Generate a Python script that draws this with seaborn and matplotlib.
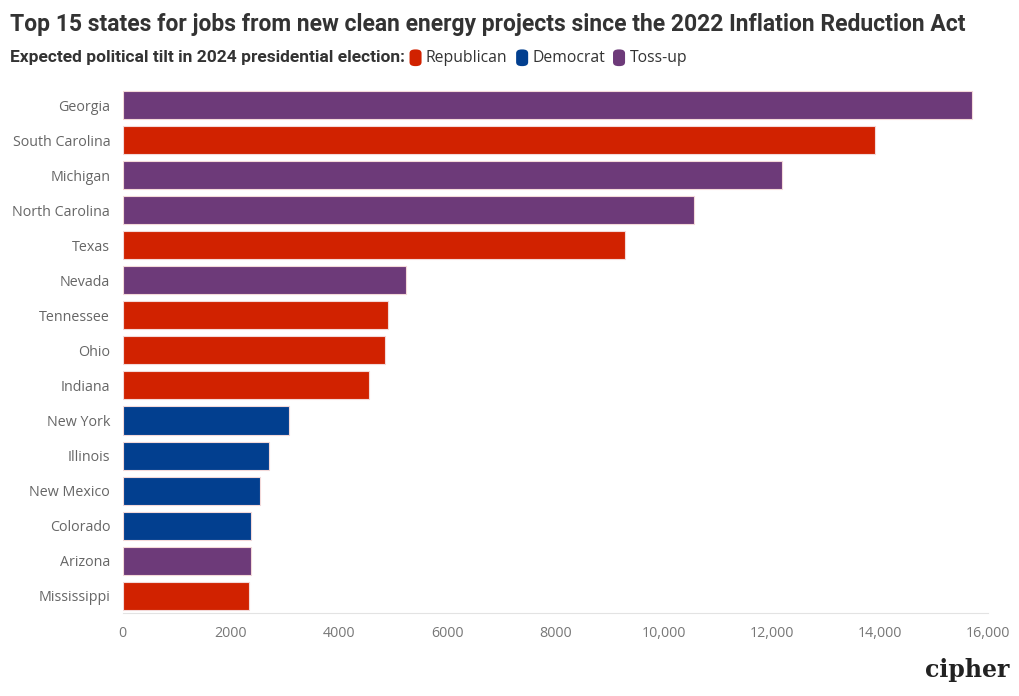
import pandas as pd
import seaborn as sns
import matplotlib.pyplot as plt
from matplotlib.patches import FancyBboxPatch

# data
states = ["Georgia", "South Carolina", "Michigan", "North Carolina", "Texas",
          "Nevada", "Tennessee", "Ohio", "Indiana", "New York", "Illinois",
          "New Mexico", "Colorado", "Arizona", "Mississippi"]
jobs = [15700, 13910, 12190, 10560, 9280, 5240, 4900, 4850, 4550,
        3080, 2710, 2540, 2380, 2370, 2330]
tilt = ["Toss-up", "Republican", "Toss-up", "Toss-up", "Republican",
        "Toss-up", "Republican", "Republican", "Republican", "Democrat",
        "Democrat", "Democrat", "Democrat", "Toss-up", "Republican"]
xticks = [0, 2000, 4000, 6000, 8000, 10000, 12000, 14000, 16000]
xticklabels = ["0", "2000", "4000", "6000", "8000", "10,000", "12,000", "14,000", "16,000"]

colors = {"Republican": "#d12200", "Democrat": "#023f8f", "Toss-up": "#6d3a79"}

df = pd.DataFrame({"state": states, "jobs": jobs, "tilt": tilt})

sns.set_style("white")
plt.rcParams["font.family"] = ["Open Sans", "DejaVu Sans"]

fig = plt.figure(figsize=(10.2, 6.96), dpi=100)
ax = fig.add_axes([0.1203, 0.119, 0.8483, 0.755])

sns.barplot(data=df, x="jobs", y="state", hue="tilt", palette=colors,
            dodge=False, width=0.8, legend=False, ax=ax,
            edgecolor="#f3d9d9", linewidth=0.8, saturation=1)

ax.set_xlim(0, 16000)
ax.set_xticks(xticks)
ax.set_xticklabels(xticklabels)
ax.set_xlabel("")
ax.set_ylabel("")
for s in ["top", "right", "left"]:
    ax.spines[s].set_visible(False)
ax.spines["bottom"].set_color("#e3e3e3")
ax.tick_params(axis="y", length=5, color="#e3e3e3", labelsize=10.3, labelcolor="#666666", pad=4)
ax.tick_params(axis="x", length=5, color="#e3e3e3", labelsize=10.3, labelcolor="#777777", pad=4)

# title and header legend
fig.text(0.0098, 0.9655, "Top 15 states for jobs from new clean energy projects since the 2022 Inflation Reduction Act",
         fontsize=16.5, fontweight="bold", color="#333333", family=["Roboto", "DejaVu Sans"],
         va="center", ha="left")
fig.text(0.0098, 0.917, "Expected political tilt in 2024 presidential election:",
         fontsize=12.5, fontweight="bold", color="#333333", family=["Roboto", "DejaVu Sans"],
         va="center", ha="left")

legend_items = [("Republican", 0.4015, 0.4175), ("Democrat", 0.506, 0.5225), ("Toss-up", 0.601, 0.6175)]
for name, mx, tx in legend_items:
    box = FancyBboxPatch((mx, 0.905), 0.0118, 0.024, boxstyle="round,pad=0,rounding_size=0.0055",
                         transform=fig.transFigure, facecolor=colors[name], edgecolor="none")
    fig.patches.append(box)
    fig.text(tx, 0.917, name, fontsize=11.3, color="#333333", va="center", ha="left")

# logo
fig.text(0.990, 0.038, "cipher", fontsize=17, fontweight="bold", family="DejaVu Serif",
         color="#222222", ha="right", va="center")

fig.savefig("out.png", dpi=100)
